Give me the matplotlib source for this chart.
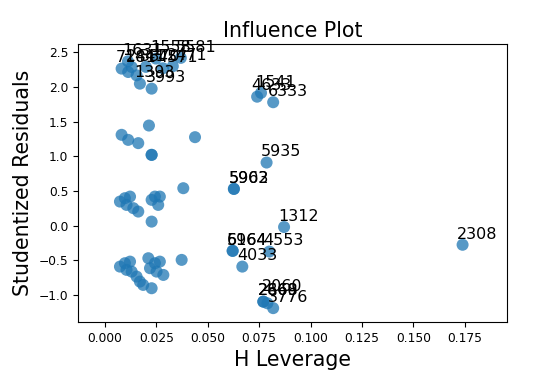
import matplotlib
matplotlib.use("Agg")
import matplotlib.pyplot as plt
import numpy as np

# Leverage (x) and studentized residuals (y)
leverage = [
    # top-left cluster
    0.0081, 0.0113, 0.0130, 0.0154, 0.0170, 0.0227, 0.0112, 0.0248, 0.0369,
    0.0199, 0.0282, 0.0330,
    # right top cluster
    0.0759, 0.0740, 0.0818,
    # ~1.0-1.45
    0.0081, 0.0113, 0.0162, 0.0214, 0.0227, 0.0227, 0.0438,
    # ~0.9 / 0.55
    0.0786, 0.0627, 0.0627, 0.0381,
    # ~0.0-0.4 cluster
    0.0073, 0.0097, 0.0122, 0.0105, 0.0138, 0.0162, 0.0227, 0.0243, 0.0267,
    0.0259, 0.0227,
    # isolated
    0.0871, 0.1739,
    # ~-0.5 to -0.9 cluster
    0.0073, 0.0097, 0.0122, 0.0105, 0.0130, 0.0154, 0.0170, 0.0186, 0.0227,
    0.0211, 0.0243, 0.0267, 0.0219, 0.0251, 0.0284, 0.0373,
    # ~-0.4 / -0.6 right
    0.0621, 0.0621, 0.0799, 0.0668,
    # bottom right
    0.0770, 0.0770, 0.0790, 0.0818,
]
residuals = [
    2.265, 2.216, 2.288, 2.168, 2.048, 1.976, 2.370, 2.410, 2.420,
    2.290, 2.270, 2.300,
    1.915, 1.860, 1.780,
    1.310, 1.237, 1.190, 1.444, 1.021, 1.021, 1.276,
    0.910, 0.530, 0.530, 0.540,
    0.347, 0.396, 0.419, 0.299, 0.252, 0.203, 0.372, 0.419, 0.419,
    0.299, 0.058,
    -0.020, -0.276,
    -0.591, -0.542, -0.519, -0.638, -0.663, -0.735, -0.807, -0.855, -0.903,
    -0.470, -0.542, -0.519, -0.614, -0.663, -0.711, -0.494,
    -0.364, -0.364, -0.374, -0.591,
    -1.096, -1.096, -1.120, -1.190,
]

# Annotated points: (label, leverage, residual)
ann_labels = ["7181", "1631", "1558", "5581", "2441", "3870", "4571", "2471",
              "1393", "3993",
              "1541", "4633", "6333",
              "5935", "5962", "5903",
              "1312", "2308",
              "6964", "5164", "4553", "4033",
              "2060", "2669", "2868", "3776"]
ann_x = [0.0081, 0.0112, 0.0248, 0.0369, 0.0130, 0.0199, 0.0282, 0.0330,
         0.0170, 0.0227,
         0.0759, 0.0740, 0.0818,
         0.0786, 0.0627, 0.0627,
         0.0871, 0.1739,
         0.0621, 0.0621, 0.0799, 0.0668,
         0.0790, 0.0770, 0.0770, 0.0818]
ann_y = [2.265, 2.370, 2.410, 2.420, 2.288, 2.290, 2.270, 2.300,
         2.048, 1.976,
         1.915, 1.860, 1.780,
         0.910, 0.530, 0.530,
         -0.020, -0.276,
         -0.364, -0.364, -0.374, -0.591,
         -1.030, -1.096, -1.096, -1.190]

xticks = [0.000, 0.025, 0.050, 0.075, 0.100, 0.125, 0.150, 0.175]
yticks = [-1.0, -0.5, 0.0, 0.5, 1.0, 1.5, 2.0, 2.5]

fig = plt.figure(figsize=(5.4, 3.9), dpi=100)
ax = fig.add_axes([78/540, 1-322/390, (507-78)/540, (322-44)/390])

ax.scatter(leverage, residuals, s=75, alpha=0.75, color="#1f77b4", edgecolors="none")

for lab, x, y in zip(ann_labels, ann_x, ann_y):
    ax.annotate(lab, (x, y), xytext=(-4, 4.5), textcoords="offset points",
                fontsize=11.5, color="black")

ax.set_xlim(-0.0131, 0.1955)
ax.set_ylim(-1.39, 2.62)
ax.set_xticks(xticks)
ax.set_xticklabels([f"{t:.3f}" for t in xticks])
ax.set_yticks(yticks)
ax.set_yticklabels([f"{t:.1f}".replace("-", "\u2212") for t in yticks])
ax.tick_params(labelsize=8.8)

ax.set_title("Influence Plot", fontsize=14.8, pad=5)
ax.set_xlabel("H Leverage", fontsize=14.8)
ax.set_ylabel("Studentized Residuals", fontsize=14.8)

fig.savefig("out.png", dpi=100)
